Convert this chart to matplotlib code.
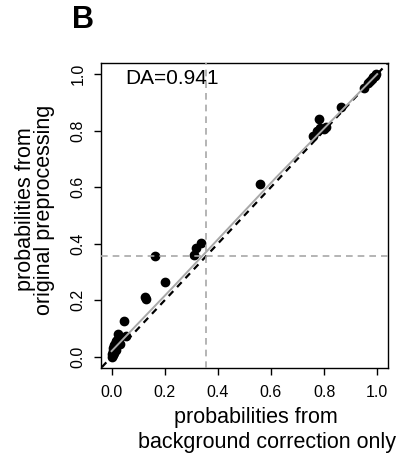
import matplotlib
matplotlib.use("Agg")
import matplotlib.pyplot as plt

plt.rcParams['font.family'] = ['Liberation Sans', 'DejaVu Sans']

# probabilities from background correction only (x) vs original preprocessing (y)
bg_only = [0.000, 0.002, 0.004, 0.006, 0.008, 0.010, 0.012, 0.015, 0.018, 0.020,
           0.022, 0.025, 0.028, 0.030, 0.005, 0.010, 0.015, 0.025, 0.046, 0.056,
           0.125, 0.131, 0.165, 0.203, 0.312, 0.318, 0.338, 0.558,
           0.759, 0.774, 0.780, 0.786, 0.799, 0.808, 0.864, 0.949,
           0.965, 0.972, 0.980, 0.986, 0.992, 0.996]
orig_pre = [0.000, 0.010, 0.020, 0.030, 0.040, 0.035, 0.045, 0.050, 0.055, 0.040,
            0.060, 0.050, 0.065, 0.045, 0.005, 0.015, 0.025, 0.082, 0.127, 0.074,
            0.211, 0.205, 0.358, 0.264, 0.360, 0.385, 0.404, 0.610,
            0.782, 0.797, 0.842, 0.809, 0.805, 0.812, 0.883, 0.952,
            0.968, 0.976, 0.983, 0.989, 0.995, 1.000]

# smooth fit (grey)
fit_x = [0.0, 0.24, 0.62, 1.0]
fit_y = [0.02, 0.255, 0.635, 1.0]

cut_x = 0.357
cut_y = 0.358
da_text = "DA=0.941"

fig = plt.figure(figsize=(3.99, 4.55), dpi=100)
ax = fig.add_axes([0.253, 0.191, 0.719, 0.671])

ax.scatter(bg_only, orig_pre, s=36, color='black', zorder=2)
ax.plot([-0.1, 1.1], [-0.1, 1.1], color='black', linestyle=(0, (3, 2.5)), lw=1.6, zorder=3)
ax.plot(fit_x, fit_y, color='#a8a8a8', lw=1.4, zorder=3)
ax.axvline(cut_x, color='#a8a8a8', linestyle=(0, (4, 3)), lw=1.2, zorder=3)
ax.axhline(cut_y, color='#a8a8a8', linestyle=(0, (4, 3)), lw=1.2, zorder=3)

ax.text(0.05, 0.985, da_text, fontsize=15, ha='left', va='center')

ax.set_xlim(-0.04, 1.04)
ax.set_ylim(-0.04, 1.04)
ticks = [0.0, 0.2, 0.4, 0.6, 0.8, 1.0]
ax.set_xticks(ticks)
ax.set_yticks(ticks)
ax.set_xticklabels([f"{t:.1f}" for t in ticks])
ax.set_yticklabels([f"{t:.1f}" for t in ticks], rotation=90, va='center')
ax.tick_params(length=5, width=1, labelsize=11.5, pad=7)
ax.tick_params(axis='y', pad=6)
for sp in ax.spines.values():
    sp.set_linewidth(1)

# axis titles, two lines each, placed like the original
fig.text(0.6416, 0.0703, "probabilities from", fontsize=15.5, ha='center', va='baseline')
fig.text(0.669, 0.0154, "background correction only", fontsize=15.5, ha='center', va='baseline')
fig.text(0.0777, 0.5407, "probabilities from", fontsize=15.5, ha='center', va='baseline',
         rotation=90, rotation_mode='anchor')
fig.text(0.1253, 0.5385, "original preprocessing", fontsize=15.5, ha='center', va='baseline',
         rotation=90, rotation_mode='anchor')

fig.text(0.18, 0.955, "B", fontsize=22, fontweight='bold', ha='left', va='center')

fig.savefig("out.png", dpi=100)
